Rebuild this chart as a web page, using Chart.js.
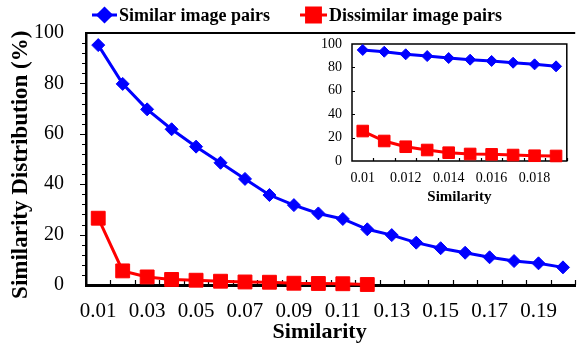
<!DOCTYPE html>
<html>
<head>
<meta charset="utf-8">
<script src="https://cdn.jsdelivr.net/npm/chart.js@4.4.1/dist/chart.umd.min.js"></script>
<style>
  html, body { margin: 0; padding: 0; background: #fff; overflow: hidden; }
  #wrap { position: relative; width: 586px; height: 344px; }
  #mainBox { position: absolute; left: 0; top: 0; width: 586px; height: 344px; }
  #insetBox { position: absolute; left: 300px; top: 34px; width: 276px; height: 172px; }
</style>
</head>
<body>
<div id="wrap">
  <div id="mainBox"><canvas id="main"></canvas></div>
  <div id="insetBox"><canvas id="inset"></canvas></div>
</div>
<script>
const seriesNames = ['Similar image pairs', 'Dissimilar image pairs'];

// main chart
const mainLabels = ['0.01', '0.02', '0.03', '0.04', '0.05', '0.06', '0.07', '0.08', '0.09', '0.10',
  '0.11', '0.12', '0.13', '0.14', '0.15', '0.16', '0.17', '0.18', '0.19', '0.20'];
const mainSimilar = [95.2, 79.8, 69.7, 61.8, 54.9, 48.5, 42.1, 35.7, 31.7, 28.4,
  26.2, 22.1, 19.8, 16.8, 14.6, 12.8, 11.0, 9.5, 8.6, 7.0];
const mainDissimilar = [26.5, 5.6, 3.2, 2.2, 1.9, 1.5, 1.2, 1.1, 0.7, 0.6, 0.5, 0.2];

// inset
const insetLabels = ['0.01', '0.011', '0.012', '0.013', '0.014', '0.015', '0.016', '0.017', '0.018', '0.019'];
const insetSimilar = [94.9, 93.4, 91.2, 89.7, 88.0, 86.6, 85.5, 84.0, 82.6, 80.9];
const insetDissimilar = [25.6, 17.1, 12.2, 9.4, 7.1, 6.0, 5.7, 5.1, 4.5, 4.3];

const BLUE = '#0000ff';
const RED = '#ff0000';

Chart.defaults.font.family = "'Liberation Serif', 'Times New Roman', serif";
Chart.defaults.color = '#000';

function series(name, data, color, style, radius) {
  return {
    label: name,
    data: data,
    borderColor: color,
    backgroundColor: color,
    borderWidth: 3,
    pointStyle: style,
    pointRadius: radius,
    pointHoverRadius: radius,
    pointBorderWidth: 1,
    tension: 0,
    clip: false
  };
}

// label offset comes from tickLength, the tick marks themselves are drawn by the frame plugin
function hiddenGrid(offset) {
  return { display: false, drawTicks: true, tickLength: offset };
}

// box lines and tick marks
const frame = {
  id: 'frame',
  beforeDatasetsDraw(chart, args, o) {
    const {ctx, chartArea: a, scales: {x, y}} = chart;
    ctx.save();
    ctx.strokeStyle = '#000';
    ctx.lineWidth = o.width;
    ctx.beginPath();
    if (o.full) {
      ctx.rect(a.left, a.top, a.right - a.left, a.bottom - a.top);
    } else {
      ctx.moveTo(a.left, a.top);
      ctx.lineTo(a.right, a.top);
    }
    ctx.stroke();
    ctx.lineWidth = 1.2;
    const half = (x.getPixelForValue(1) - x.getPixelForValue(0)) / 2;
    ctx.beginPath();
    for (let i = 1; i <= x.ticks.length; i++) {
      const px = Math.round(x.getPixelForValue(i) - half) + 0.5;
      ctx.moveTo(px, a.bottom);
      ctx.lineTo(px, a.bottom - o.tick);
    }
    (o.yTicks || []).forEach(v => {
      const py = Math.round(y.getPixelForValue(v)) + 0.5;
      ctx.moveTo(a.left, py);
      ctx.lineTo(a.left + o.tick, py);
    });
    if (o.yOuter) {
      const s = o.yOuter;
      for (let v = s.step; v < y.max; v += s.step) {
        const py = Math.round(y.getPixelForValue(v)) + 0.5;
        const len = v % s.major === 0 ? s.majorLen : s.len;
        ctx.moveTo(a.left, py);
        ctx.lineTo(a.left - len, py);
      }
    }
    ctx.stroke();
    ctx.restore();
  }
};

// legend with line + marker symbols
const lineLegend = {
  id: 'lineLegend',
  afterDraw(chart, args, o) {
    const ctx = chart.ctx;
    ctx.save();
    ctx.font = "bold 18px 'Liberation Serif'";
    ctx.textBaseline = 'middle';
    o.items.forEach(it => {
      const ds = chart.data.datasets[it.index];
      ctx.strokeStyle = ds.borderColor;
      ctx.fillStyle = ds.borderColor;
      ctx.lineWidth = 3;
      ctx.beginPath();
      ctx.moveTo(it.x, o.y);
      ctx.lineTo(it.x + it.w, o.y);
      ctx.stroke();
      Chart.helpers.drawPoint(ctx, {
        pointStyle: ds.pointStyle, radius: ds.pointRadius, borderWidth: 1, rotation: 0
      }, it.x + it.w / 2, o.y);
      ctx.fillStyle = '#000';
      ctx.fillText(ds.label, it.x + it.w + 2, o.y + 1);
    });
    ctx.restore();
  }
};

new Chart(document.getElementById('main'), {
  type: 'line',
  data: {
    labels: mainLabels,
    datasets: [
      series(seriesNames[0], mainSimilar, BLUE, 'rectRot', 6.5),
      series(seriesNames[1], mainDissimilar, RED, 'rect', 9.8)
    ]
  },
  plugins: [frame, lineLegend],
  options: {
    responsive: true,
    maintainAspectRatio: false,
    devicePixelRatio: 1,
    animation: false,
    layout: { padding: { top: 33, left: 0, right: 0, bottom: 0 } },
    plugins: {
      legend: { display: false },
      tooltip: { enabled: false },
      frame: {
        full: false, width: 2, tick: 5,
        yOuter: { step: 4, len: 4, major: 20, majorLen: 6 }
      },
      lineLegend: {
        y: 15,
        items: [{ index: 0, x: 92, w: 25 }, { index: 1, x: 300, w: 27 }]
      }
    },
    scales: {
      x: {
        type: 'category',
        offset: true,
        grid: hiddenGrid(14),
        border: { display: true, color: '#000', width: 3 },
        ticks: {
          autoSkip: false,
          maxRotation: 0,
          padding: 0,
          font: { size: 21 },
          callback: (v, i) => (i % 2 === 0 ? mainLabels[i] : '')
        },
        title: {
          display: true,
          text: 'Similarity    ',
          font: { size: 22, weight: 'bold' },
          padding: { top: 0, bottom: -2 }
        },
        afterFit: s => { s.height = 59; }
      },
      y: {
        min: 0,
        max: 100,
        grid: hiddenGrid(22),
        border: { display: true, color: '#000', width: 2.5 },
        ticks: {
          stepSize: 20,
          autoSkip: false,
          padding: 0,
          font: { size: 20 }
        },
        title: {
          display: true,
          text: 'Similarity Distribution (%)  ',
          font: { size: 23, weight: 'bold' },
          padding: { top: 7, bottom: 0 }
        },
        afterFit: s => { s.width = 86; }
      }
    }
  }
});

new Chart(document.getElementById('inset'), {
  type: 'line',
  data: {
    labels: insetLabels,
    datasets: [
      series(seriesNames[0], insetSimilar, BLUE, 'rectRot', 5.5),
      series(seriesNames[1], insetDissimilar, RED, 'rect', 8.2)
    ]
  },
  plugins: [frame],
  options: {
    responsive: true,
    maintainAspectRatio: false,
    devicePixelRatio: 1,
    animation: false,
    layout: { padding: { top: 10, left: 0, right: 7, bottom: 0 } },
    plugins: {
      legend: { display: false },
      tooltip: { enabled: false },
      frame: { full: true, width: 1.5, tick: 3, yTicks: [20, 40, 60, 80] }
    },
    scales: {
      x: {
        type: 'category',
        offset: true,
        grid: hiddenGrid(9),
        border: { display: false },
        ticks: {
          autoSkip: false,
          maxRotation: 0,
          padding: 0,
          font: { size: 14 },
          callback: (v, i) => (i % 2 === 0 ? insetLabels[i] : '')
        },
        title: {
          display: true,
          text: 'Similarity',
          font: { size: 15, weight: 'bold' },
          padding: { top: 0, bottom: 0 }
        },
        afterFit: s => { s.height = 45; }
      },
      y: {
        min: 0,
        max: 100,
        grid: hiddenGrid(10),
        border: { display: false },
        ticks: {
          stepSize: 20,
          autoSkip: false,
          padding: 0,
          font: { size: 14 }
        },
        afterFit: s => { s.width = 52; }
      }
    }
  }
});
</script>
</body>
</html>
